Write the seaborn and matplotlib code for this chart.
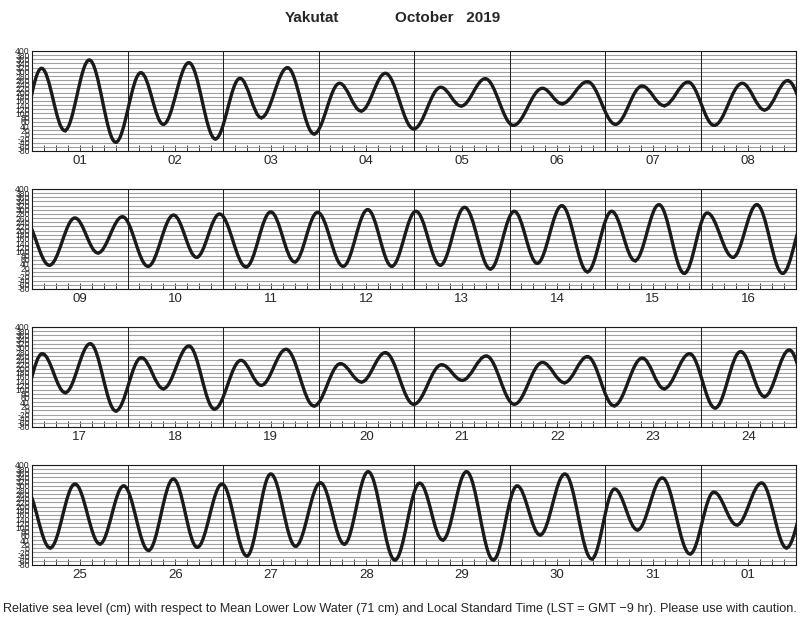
import numpy as np
import pandas as pd
import seaborn as sns
import matplotlib
matplotlib.use("Agg")
import matplotlib.pyplot as plt
from matplotlib.path import Path
from matplotlib.patches import PathPatch

sns.set_theme(style="white")
plt.rcParams["font.family"] = ["Liberation Sans", "DejaVu Sans"]

# high / low waters
# time = days since 01 Oct 00:00 LST, height = cm above MLLW
ext_time = [
    -0.155, 0.10, 0.342, 0.60, 0.877, 1.14, 1.375, 1.643, 1.92, 2.178, 2.40,
    2.675, 2.953, 3.22, 3.446, 3.70, 3.997, 4.28, 4.494, 4.746, 5.04, 5.345,
    5.548, 5.816, 6.11, 6.388, 6.618, 6.87, 7.143, 7.437, 7.67, 7.913,
    8.182, 8.449, 8.69, 8.947, 9.215, 9.482, 9.723, 9.964, 10.242, 10.50,
    10.75, 10.99, 11.258, 11.515, 11.767, 12.02, 12.275, 12.53, 12.80, 13.05,
    13.29, 13.548, 13.816, 14.07, 14.313, 14.565, 14.83, 15.07, 15.34, 15.59,
    15.86, 16.107, 16.348, 16.61, 16.877, 17.145, 17.375, 17.643, 17.91,
    18.188, 18.40, 18.66, 18.953, 19.23, 19.45, 19.70, 19.997, 20.29, 20.505,
    20.757, 21.05, 21.345, 21.575, 21.816, 22.094, 22.39, 22.618, 22.886,
    23.153, 23.42, 23.67, 23.93,
    24.19, 24.45, 24.71, 24.96, 25.22, 25.48, 25.73, 25.99, 26.25, 26.50,
    26.76, 27.02, 27.27, 27.52, 27.80, 28.06, 28.30, 28.55, 28.83, 29.08,
    29.32, 29.58, 29.86, 30.10, 30.34, 30.60, 30.89, 31.14, 31.38, 31.64,
    31.90, 32.15,
]
ext_height = [
    -40, 317, 18, 357, -38, 296, 48, 344, -22, 269, 80,
    320, 2, 245, 112, 293, 26, 226, 136, 267, 43, 221,
    147, 253, 48, 232, 138, 251, 43, 245, 117, 258,
    34, 261, 93, 267, 29, 275, 72, 280, 26, 290,
    50, 288, 29, 301, 29, 293, 34, 312, 16, 293,
    43, 320, 3, 293, 56, 325, -5, 285, 72, 325,
    -5, 272, 85, 320, -3, 253, 104, 309, 6,
    240, 120, 293, 21, 224, 136, 277, 29, 219, 144,
    261, 29, 230, 133, 258, 22, 251, 104, 272,
    11, 282, 66, 290,
    2, 309, 21, 300, -10, 333, 5, 309, -37, 357,
    10, 315, 20, 368, -56, 313, 40, 368, -56, 300,
    64, 357, -51, 285, 88, 338, -27, 270, 112, 314,
    2, 280,
]

day_labels = [f"{d:02d}" for d in range(1, 32)] + ["01"]
level_ticks = list(range(-80, 401, 20))

df = pd.DataFrame({"t": ext_time, "h": ext_height})

# smooth tide curve through the extremes (horizontal tangent at each turn)
verts = [(df.t[0], df.h[0])]
codes = [Path.MOVETO]
for k in range(1, len(df)):
    t0, h0, t1, h1 = df.t[k - 1], df.h[k - 1], df.t[k], df.h[k]
    dt = t1 - t0
    verts += [(t0 + 0.36 * dt, h0), (t1 - 0.36 * dt, h1), (t1, h1)]
    codes += [Path.CURVE4] * 3
tide_path = Path(verts, codes)

fig = plt.figure(figsize=(8, 6.18), dpi=100)
W, H = 800, 618
tops = [51, 189, 327, 465]

for i, top in enumerate(tops):
    ax = fig.add_axes([32 / W, 1 - (top + 100) / H, 764 / W, 100 / H])
    x0 = 8 * i
    for y in level_ticks:
        ax.axhline(y, color="#a0a0a0", lw=0.8, zorder=1)
    for d in range(x0 + 1, x0 + 8):
        ax.axvline(d, color="k", lw=0.7, zorder=1)
    ax.add_patch(PathPatch(tide_path, facecolor="none", edgecolor="k",
                           lw=2.4, zorder=3))
    sns.scatterplot(data=df, x="t", y="h", ax=ax, color="k", s=3,
                    linewidth=0, zorder=4, legend=False)
    ax.set_xlim(x0, x0 + 8)
    ax.set_ylim(-80, 400)
    ax.set(xlabel="", ylabel="")

    ax.xaxis.remove_overlapping_locs = False
    ax.set_xticks(np.arange(x0, x0 + 8.001, 0.125))
    ax.set_xticklabels([])
    ax.set_xticks(np.arange(x0 + 0.5, x0 + 8, 1), minor=True)
    ax.set_xticklabels(day_labels[x0:x0 + 8], minor=True)
    ax.tick_params(axis="x", which="major", direction="in", length=4,
                   width=0.6, color="k", bottom=True)
    ax.tick_params(axis="x", which="minor", length=0, pad=3, labelsize=9.5,
                   bottom=True, labelbottom=True)

    ax.set_yticks(level_ticks)
    ax.set_yticklabels([str(v) for v in level_ticks])
    ax.tick_params(axis="y", length=0, pad=1.5, labelsize=6.2)
    for s in ax.spines.values():
        s.set_color("k")
        s.set_linewidth(0.8)

fig.text(285 / W, 1 - 18 / H, "Yakutat", fontsize=11, fontweight="bold",
         ha="left", va="center")
fig.text(395 / W, 1 - 18 / H, "October   2019", fontsize=11,
         fontweight="bold", ha="left", va="center")
fig.text(400 / W, 1 - 609 / H,
         "Relative sea level (cm) with respect to Mean Lower Low Water (71 cm) "
         "and Local Standard Time (LST = GMT \u22129 hr). Please use with caution.",
         fontsize=9.1, ha="center", va="center")

fig.savefig("out.png", dpi=100)
